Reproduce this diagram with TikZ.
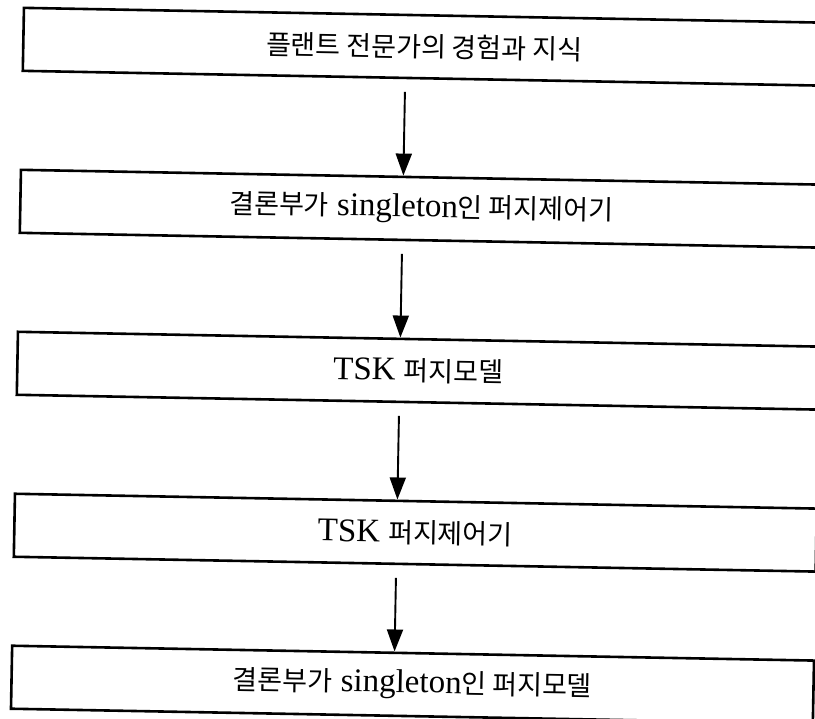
\documentclass[tikz,border=0pt]{standalone}
\usepackage{fontspec}
\setmainfont{Liberation Serif}
\newfontfamily\krfont{Noto Sans CJK KR}
\usetikzlibrary{arrows.meta,calc}
\newcommand{\KR}[1]{{\krfont\fontsize{27}{30}\selectfont #1}}
\tikzset{
  flowbox/.style={draw, line width=2.6pt, rectangle, minimum width=802pt, minimum height=63pt,
    inner sep=0pt, font=\fontsize{33}{38}\selectfont},
  flowarrow/.style={line width=1.9pt, -{Triangle[length=22pt,width=16pt]}}
}
\begin{document}
\begin{tikzpicture}[x=1pt,y=-1pt]
\useasboundingbox (0,0) rectangle (815,719);
\clip (0,0) rectangle (815,719);
\fill[white] (0,0) rectangle (815,719);
\begin{scope}[rotate around={-1.06:(407,360)}, transform shape]
  \node[flowbox] (b1) at (418.5,46.5) {\KR{플랜트 전문가의 경험과 지식}};
  \node[flowbox] (b2) at (418.5,208.5) {\KR{결론부가} singleton\KR{인 퍼지제어기}};
  \node[flowbox] (b3) at (418.5,370.5) {TSK \KR{퍼지모델}};
  \node[flowbox] (b4) at (418.5,532.5) {TSK \KR{퍼지제어기}};
  \node[flowbox] (b5) at (418.5,684.5) {\KR{결론부가} singleton\KR{인 퍼지모델}};
  \coordinate (s1) at (400,92);
  \coordinate (s2) at (400,254);
  \coordinate (s3) at (400,416);
  \coordinate (s4) at (400,578);
  \draw[flowarrow] (s1) -- ($(b2.north west)!0.477!(b2.north east)$);
  \draw[flowarrow] (s2) -- ($(b3.north west)!0.477!(b3.north east)$);
  \draw[flowarrow] (s3) -- ($(b4.north west)!0.477!(b4.north east)$);
  \draw[flowarrow] (s4) -- ($(b5.north west)!0.477!(b5.north east)$);
\end{scope}
\end{tikzpicture}
\end{document}
